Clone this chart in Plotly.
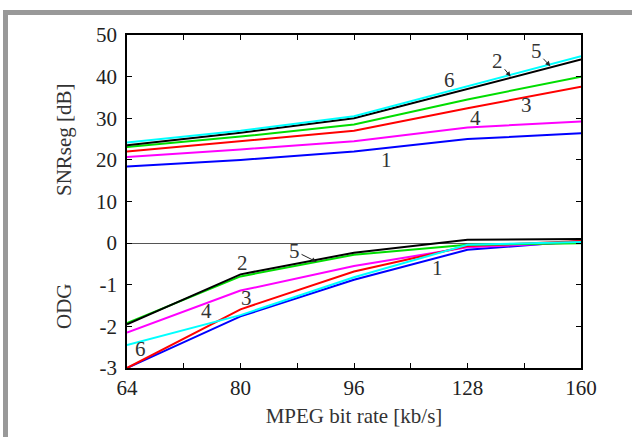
import plotly.graph_objects as go

bitrates = ["64", "80", "96", "128", "160"]
xi = [0, 1, 2, 3, 4]

# SNRseg [dB] per curve (1..6)
snr = {
    "1": [18.4, 20.0, 22.0, 25.0, 26.4],
    "2": [23.5, 26.5, 30.0, 37.0, 44.1],
    "3": [22.0, 24.5, 27.0, 32.4, 37.6],
    "4": [20.7, 22.5, 24.5, 27.8, 29.2],
    "5": [23.1, 25.6, 28.5, 34.5, 40.0],
    "6": [24.2, 27.0, 30.5, 37.7, 44.9],
}
# ODG per curve (1..6)
odg = {
    "1": [-3.0, -1.76, -0.88, -0.16, 0.05],
    "2": [-1.95, -0.75, -0.23, 0.08, 0.10],
    "3": [-3.0, -1.59, -0.68, -0.07, 0.05],
    "4": [-2.15, -1.14, -0.55, -0.10, 0.02],
    "5": [-1.92, -0.80, -0.28, -0.04, 0.0],
    "6": [-2.45, -1.73, -0.82, -0.04, 0.03],
}
colors = {"1": "#0000ff", "2": "#000000", "3": "#ff0000",
          "4": "#ff00ff", "5": "#00dd00", "6": "#00ffff"}
order = ["1", "4", "3", "5", "2", "6"]

ytickvals = [-3, -2, -1, 0, 1, 2, 3, 4, 5]
yticktext = ["-3", "-2", "-1", "0", "10", "20", "30", "40", "50"]

FONT = "Liberation Serif"
FS = 21
fig = go.Figure()
for k in order:
    fig.add_trace(go.Scatter(x=xi, y=[v / 10 for v in snr[k]], mode="lines",
                             line=dict(color=colors[k], width=2), showlegend=False))
for k in order:
    fig.add_trace(go.Scatter(x=xi, y=odg[k], mode="lines",
                             line=dict(color=colors[k], width=2), showlegend=False))

L, R, T, B = 127, 51, 35, 69
W, H = 632, 437
pw, ph = W - L - R, H - T - B


def px(x):
    return (x - L) / pw


def py(y):
    return (H - B - y) / ph


# grey frame
fig.add_shape(type="rect", xref="paper", yref="paper",
              x0=px(5.5), x1=px(700), y0=py(12.5), y1=py(500),
              line=dict(color="#999999", width=5), fillcolor="rgba(0,0,0,0)", layer="below")

ann_font = dict(family=FONT, size=FS, color="#333333")
labels = [
    ("6", 2.84, 3.91), ("3", 3.52, 3.33), ("4", 3.07, 3.0), ("1", 2.29, 2.0),
    ("2", 1.02, -0.48), ("4", 0.7, -1.63), ("3", 1.05, -1.31), ("6", 0.12, -2.54),
    ("1", 2.74, -0.6),
]
for t, x, y in labels:
    fig.add_annotation(x=x, y=y, text=t, showarrow=False, font=ann_font)

arrows = [
    ("2", 3.38, 4.0, -13, -16),
    ("5", 3.73, 4.25, -14, -15),
    ("5", 1.67, -0.45, -22, -11),
]
for t, x, y, ax, ay in arrows:
    fig.add_annotation(x=x, y=y, text=t, showarrow=True, ax=ax, ay=ay,
                       arrowhead=2, arrowsize=1, arrowwidth=1, arrowcolor="#222222",
                       standoff=0, font=ann_font)

fig.add_annotation(xref="paper", yref="paper", x=px(64), y=py(140), text="SNRseg [dB]",
                   textangle=-90, showarrow=False, font=ann_font,
                   xanchor="center", yanchor="middle")
fig.add_annotation(xref="paper", yref="paper", x=px(64), y=py(306), text="ODG",
                   textangle=-90, showarrow=False, font=ann_font,
                   xanchor="center", yanchor="middle")

fig.update_layout(
    width=W, height=H, margin=dict(l=L, r=R, t=T, b=B),
    paper_bgcolor="white", plot_bgcolor="white",
    font=dict(family=FONT, size=FS, color="#222222"),
    xaxis=dict(range=[0, 4], tickvals=xi, ticktext=bitrates, showgrid=False,
               zeroline=False, showline=True, linecolor="black", linewidth=1.5,
               mirror="ticks", ticks="inside", ticklen=5, tickcolor="black",
               minor=dict(dtick=0.5, tick0=0, ticks="inside", ticklen=5, tickcolor="black"),
               title=dict(text="MPEG bit rate [kb/s]", standoff=9,
                          font=dict(family=FONT, size=FS, color="#333333"))),
    yaxis=dict(range=[-3, 5], tickvals=ytickvals, ticktext=yticktext, showgrid=False,
               zeroline=True, zerolinecolor="#555555", zerolinewidth=1,
               showline=True, linecolor="black", linewidth=1.5, mirror="ticks",
               ticks="inside", ticklen=5, tickcolor="black", ticklabelstandoff=4),
)
fig.write_html("out.html")
